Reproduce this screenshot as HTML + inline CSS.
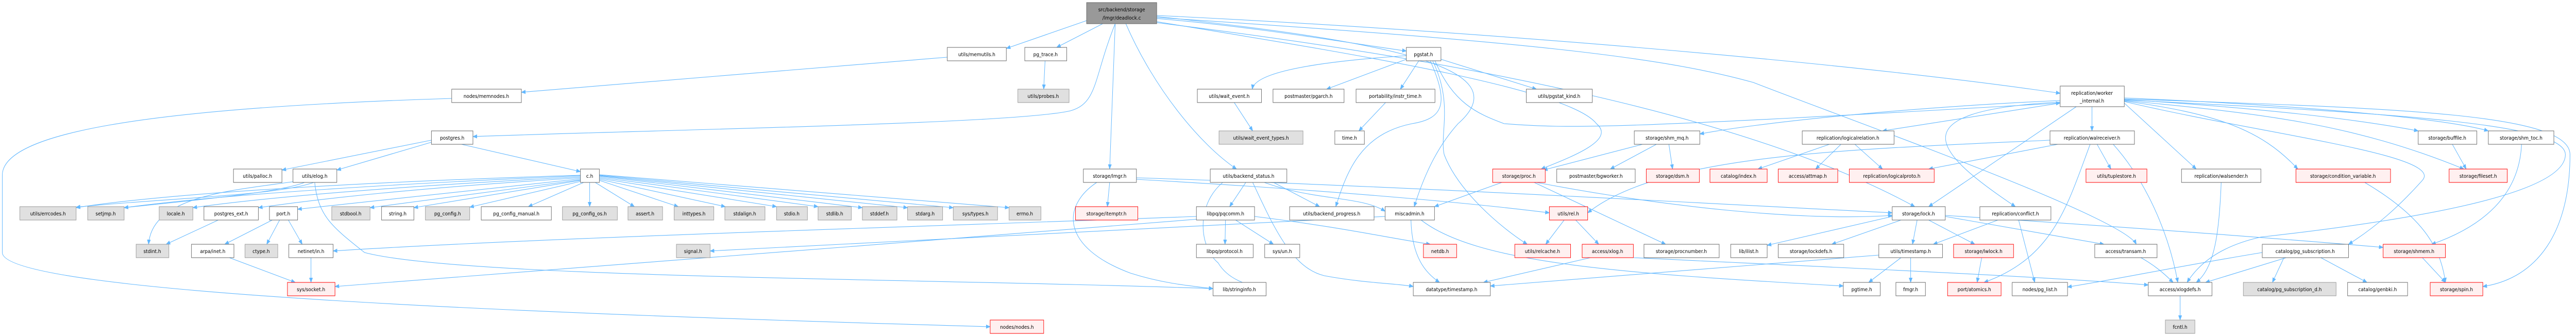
<!DOCTYPE html>
<html><head><meta charset="utf-8"><style>
html,body{margin:0;padding:0;background:#fff;width:100vw;height:100vh;overflow:hidden;}
svg{display:block;position:absolute;left:0;top:0;width:100vw;height:100vh;}
.e{fill:none;stroke:#63b8ff;stroke-width:1.1;marker-end:url(#a);}
.n{fill:#fff;stroke:#666;stroke-width:1;}
.g{fill:#e0e0e0;stroke:#999;stroke-width:1;}
.r{fill:#fff0f0;stroke:#f00;stroke-width:1;}
.t{fill:#999;stroke:#666;stroke-width:1;}
text{font-family:"DejaVu Sans","Liberation Sans",sans-serif;font-size:10px;fill:#000;text-anchor:middle;}
</style></head><body>
<svg viewBox="0 0 5583 652" preserveAspectRatio="none" xmlns="http://www.w3.org/2000/svg">
<defs><marker id="a" markerWidth="10" markerHeight="8" refX="9" refY="4" orient="auto" markerUnits="userSpaceOnUse"><path d="M0,0 L10,4 L0,8 z" fill="#63b8ff"/></marker></defs>
<g>
<path class="e" d="M2355,40 L2181,94"/>
<path class="e" d="M2390,46 L2290,92"/>
<path class="e" d="M2507,36 C2700,50 2900,80 3048,99"/>
<path class="e" d="M2417,46 L2405,328"/>
<path class="e" d="M2440,46 C2500,170 2600,280 2680,328"/>
<path class="e" d="M2417,46 C2370,150 2380,200 2320,215 C2200,240 1500,250 1025,265"/>
<path class="e" d="M2507,30 C3200,60 4000,120 4465,181"/>
<path class="e" d="M2507,42 C2900,100 3400,170 3460,240 C3500,270 3420,300 3340,328"/>
<path class="e" d="M2507,32 C3000,80 3300,130 3160,240 C3120,280 3090,330 3065,401"/>
<path class="e" d="M2507,44 C3200,120 3800,230 4150,401"/>
<path class="e" d="M2507,34 C3300,80 3600,110 3800,160 C4000,230 4600,420 4630,474"/>
<path class="e" d="M2053,111 L1130,179"/>
<path class="e" d="M979,191 C300,210 5,260 5,340 L5,490 C5,570 1200,610 2146,634"/>
<path class="e" d="M2265,118 L2262,173"/>
<path class="e" d="M1000,280 L1258,333"/>
<path class="e" d="M935,272 L611,330"/>
<path class="e" d="M935,276 L730,330"/>
<path class="e" d="M1258,340 C900,350 400,370 165,403"/>
<path class="e" d="M1258,341 C900,355 500,375 269,403"/>
<path class="e" d="M1258,343 C900,360 600,380 418,403"/>
<path class="e" d="M1258,345 C900,365 700,385 560,403"/>
<path class="e" d="M1258,347 C1000,370 800,390 645,406"/>
<path class="e" d="M1258,349 L802,403"/>
<path class="e" d="M1258,350 L897,403"/>
<path class="e" d="M1258,352 L1018,402"/>
<path class="e" d="M1265,354 L1145,401"/>
<path class="e" d="M1278,354 L1278,401"/>
<path class="e" d="M1290,354 L1375,401"/>
<path class="e" d="M1299,350 L1470,401"/>
<path class="e" d="M1299,348 L1572,401"/>
<path class="e" d="M1299,346 L1683,401"/>
<path class="e" d="M1299,344 L1773,401"/>
<path class="e" d="M1299,342 L1869,403"/>
<path class="e" d="M1299,341 L1967,403"/>
<path class="e" d="M1299,340 L2066,403"/>
<path class="e" d="M1299,339 L2187,403"/>
<path class="e" d="M640,352 C500,370 330,380 322,474"/>
<path class="e" d="M682,354 C690,420 720,440 790,490 C1000,540 2000,540 2629,560"/>
<path class="e" d="M680,354 C600,380 350,385 165,402"/>
<path class="e" d="M660,354 C600,375 400,390 269,403"/>
<path class="e" d="M473,427 L360,474"/>
<path class="e" d="M590,427 L487,474"/>
<path class="e" d="M606,427 L578,474"/>
<path class="e" d="M625,427 L655,474"/>
<path class="e" d="M497,500 L640,548"/>
<path class="e" d="M674,500 L674,548"/>
<path class="e" d="M2675,199 L2715,254"/>
<path class="e" d="M3048,108 C2850,120 2720,140 2714,173"/>
<path class="e" d="M3048,115 L2875,173"/>
<path class="e" d="M3075,118 L3035,173"/>
<path class="e" d="M3123,115 L3330,173"/>
<path class="e" d="M3100,118 C3140,200 3130,230 3060,240 C2950,260 2920,330 2895,401"/>
<path class="e" d="M3105,118 C3150,200 3120,260 3130,300 C3160,370 3250,440 3310,474"/>
<path class="e" d="M3110,118 C3150,200 3200,220 3260,240 C3400,250 3500,250 4465,200"/>
<path class="e" d="M3003,199 L2945,254"/>
<path class="e" d="M2405,354 L2400,401"/>
<path class="e" d="M2377,354 C2300,400 2300,480 2450,530 C2520,550 2580,555 2629,560"/>
<path class="e" d="M2463,345 C3000,360 3600,390 4101,413"/>
<path class="e" d="M2463,348 C2900,370 3200,395 3358,413"/>
<path class="e" d="M2700,354 L2665,401"/>
<path class="e" d="M2740,354 C2850,390 2950,380 3002,410"/>
<path class="e" d="M2650,354 C2590,400 2600,480 2640,510 C2660,540 2700,555 2744,558"/>
<path class="e" d="M2715,354 C2760,440 2800,520 2870,535 C2960,550 3030,550 3063,556"/>
<path class="e" d="M2760,354 L2860,401"/>
<path class="e" d="M2656,427 L2655,474"/>
<path class="e" d="M2678,427 L2760,474"/>
<path class="e" d="M2719,420 C2900,440 3000,460 3100,474"/>
<path class="e" d="M2593,420 C2000,440 1200,460 722,487"/>
<path class="e" d="M2600,425 C2000,470 1200,520 726,556"/>
<path class="e" d="M3560,280 L3345,330"/>
<path class="e" d="M3590,280 L3490,328"/>
<path class="e" d="M3617,280 L3625,328"/>
<path class="e" d="M3255,354 L3109,401"/>
<path class="e" d="M3325,354 L3610,474"/>
<path class="e" d="M3330,354 C3600,400 3900,430 4101,418"/>
<path class="e" d="M3390,427 L3350,474"/>
<path class="e" d="M3415,427 L3465,474"/>
<path class="e" d="M3058,427 C3060,500 3090,530 3120,548"/>
<path class="e" d="M3002,420 C2500,440 2000,470 1539,487"/>
<path class="e" d="M3080,427 C3200,510 3500,530 3995,555"/>
<path class="e" d="M3447,500 L3215,548"/>
<path class="e" d="M3540,500 C4000,520 4400,535 4656,553"/>
<path class="e" d="M4465,200 L4080,254"/>
<path class="e" d="M4534,207 L4534,254"/>
<path class="e" d="M4500,207 L4180,401"/>
<path class="e" d="M4465,195 C4100,210 3800,240 3684,260"/>
<path class="e" d="M4604,193 C4900,210 5100,230 5241,254"/>
<path class="e" d="M4604,190 C5000,205 5300,230 5393,254"/>
<path class="e" d="M4604,195 C4900,220 5100,240 5340,328"/>
<path class="e" d="M4604,196 C4800,220 4900,250 4980,328"/>
<path class="e" d="M4604,200 L4760,328"/>
<path class="e" d="M4604,197 C4900,260 5300,300 5250,350 C5200,400 5150,440 5090,474"/>
<path class="e" d="M4604,192 C5200,210 5570,220 5570,300 C5570,450 5500,540 5381,556"/>
<path class="e" d="M4604,194 C5200,220 5560,240 5560,300 C5560,380 5200,430 4900,460 C4800,480 4760,520 4740,548"/>
<path class="e" d="M4465,198 C4100,215 4200,300 4368,401"/>
<path class="e" d="M3965,280 L3810,328"/>
<path class="e" d="M3990,280 L3935,328"/>
<path class="e" d="M4020,280 L4080,328"/>
<path class="e" d="M4545,280 L4575,328"/>
<path class="e" d="M4460,280 L4180,328"/>
<path class="e" d="M4530,280 C4480,400 4450,500 4300,548"/>
<path class="e" d="M4580,280 C4650,350 4700,450 4720,548"/>
<path class="e" d="M4443,272 C4000,290 3600,300 3441,413"/>
<path class="e" d="M4101,420 L3830,476"/>
<path class="e" d="M4120,427 L3970,474"/>
<path class="e" d="M4155,427 L4145,474"/>
<path class="e" d="M4180,427 L4280,474"/>
<path class="e" d="M4216,420 L4560,474"/>
<path class="e" d="M4216,418 C4600,440 4900,460 5165,480"/>
<path class="e" d="M4330,427 L4190,474"/>
<path class="e" d="M4375,427 L4410,548"/>
<path class="e" d="M4120,500 L4050,548"/>
<path class="e" d="M4141,500 L4141,548"/>
<path class="e" d="M4072,495 C3700,520 3400,545 3230,555"/>
<path class="e" d="M4295,500 L4285,548"/>
<path class="e" d="M5315,280 L5345,328"/>
<path class="e" d="M5465,280 C5460,380 5380,440 5270,474"/>
<path class="e" d="M5125,354 C5250,420 5290,480 5300,548"/>
<path class="e" d="M5250,500 L5300,548"/>
<path class="e" d="M4814,354 C4810,450 4800,520 4760,548"/>
<path class="e" d="M4950,500 L4925,548"/>
<path class="e" d="M5030,500 L5130,548"/>
<path class="e" d="M4955,500 L4780,548"/>
<path class="e" d="M4903,490 C4700,520 4600,540 4481,557"/>
<path class="e" d="M4725,574 L4725,621"/>
<path class="e" d="M4640,500 C4680,520 4700,540 4710,548"/>
</g>
<g>
<rect class="t" x="2355" y="5" width="152" height="41"/><text x="2431" y="22">src/backend/storage</text><text x="2431" y="38">/lmgr/deadlock.c</text>
<rect class="n" x="4465" y="167" width="139" height="40"/><text x="4534" y="184">replication/worker</text><text x="4534" y="199">_internal.h</text>
</g>
<g>
<rect class="n" x="2053" y="92" width="128" height="26"/><text x="2117" y="109">utils/memutils.h</text>
<rect class="n" x="2221" y="92" width="91" height="26"/><text x="2266" y="109">pg_trace.h</text>
<rect class="n" x="3048" y="92" width="75" height="26"/><text x="3085" y="109">pgstat.h</text>
</g>
<g>
<rect class="g" x="2206" y="173" width="111" height="26"/><text x="2261" y="190">utils/probes.h</text>
<rect class="n" x="979" y="173" width="151" height="26"/><text x="1054" y="190">nodes/memnodes.h</text>
<rect class="n" x="2595" y="173" width="139" height="26"/><text x="2664" y="190">utils/wait_event.h</text>
<rect class="n" x="2759" y="173" width="154" height="26"/><text x="2836" y="190">postmaster/pgarch.h</text>
<rect class="n" x="2939" y="173" width="171" height="26"/><text x="3024" y="190">portability/instr_time.h</text>
<rect class="n" x="3308" y="173" width="143" height="26"/><text x="3379" y="190">utils/pgstat_kind.h</text>
</g>
<g>
<rect class="n" x="935" y="254" width="90" height="26"/><text x="980" y="271">postgres.h</text>
<rect class="g" x="2642" y="254" width="182" height="26"/><text x="2733" y="271">utils/wait_event_types.h</text>
<rect class="n" x="2893" y="254" width="64" height="26"/><text x="2925" y="271">time.h</text>
<rect class="n" x="3542" y="254" width="142" height="26"/><text x="3613" y="271">storage/shm_mq.h</text>
<rect class="n" x="3906" y="254" width="199" height="26"/><text x="4005" y="271">replication/logicalrelation.h</text>
<rect class="n" x="4443" y="254" width="183" height="26"/><text x="4534" y="271">replication/walreceiver.h</text>
<rect class="n" x="5241" y="254" width="127" height="26"/><text x="5304" y="271">storage/buffile.h</text>
<rect class="n" x="5393" y="254" width="142" height="26"/><text x="5464" y="271">storage/shm_toc.h</text>
</g>
<g>
<rect class="n" x="506" y="328" width="105" height="26"/><text x="558" y="345">utils/palloc.h</text>
<rect class="n" x="635" y="328" width="95" height="26"/><text x="682" y="345">utils/elog.h</text>
<rect class="n" x="1258" y="328" width="41" height="26"/><text x="1278" y="345">c.h</text>
<rect class="n" x="2348" y="328" width="115" height="26"/><text x="2405" y="345">storage/lmgr.h</text>
<rect class="n" x="2623" y="328" width="166" height="26"/><text x="2706" y="345">utils/backend_status.h</text>
<rect class="r" x="3235" y="328" width="114" height="26"/><text x="3292" y="345">storage/proc.h</text>
<rect class="n" x="3374" y="328" width="170" height="26"/><text x="3459" y="345">postmaster/bgworker.h</text>
<rect class="r" x="3568" y="328" width="115" height="26"/><text x="3625" y="345">storage/dsm.h</text>
<rect class="r" x="3706" y="328" width="124" height="26"/><text x="3768" y="345">catalog/index.h</text>
<rect class="r" x="3854" y="328" width="129" height="26"/><text x="3918" y="345">access/attmap.h</text>
<rect class="r" x="4008" y="328" width="184" height="26"/><text x="4100" y="345">replication/logicalproto.h</text>
<rect class="r" x="4521" y="328" width="132" height="26"/><text x="4587" y="345">utils/tuplestore.h</text>
<rect class="n" x="4728" y="328" width="172" height="26"/><text x="4814" y="345">replication/walsender.h</text>
<rect class="r" x="4976" y="328" width="205" height="26"/><text x="5078" y="345">storage/condition_variable.h</text>
<rect class="r" x="5308" y="328" width="126" height="26"/><text x="5371" y="345">storage/fileset.h</text>
</g>
<g>
<rect class="g" x="43" y="401" width="122" height="26"/><text x="104" y="418">utils/errcodes.h</text>
<rect class="g" x="190" y="401" width="79" height="26"/><text x="229" y="418">setjmp.h</text>
<rect class="g" x="345" y="401" width="73" height="26"/><text x="381" y="418">locale.h</text>
<rect class="n" x="442" y="401" width="118" height="26"/><text x="501" y="418">postgres_ext.h</text>
<rect class="n" x="584" y="401" width="61" height="26"/><text x="614" y="418">port.h</text>
<rect class="g" x="719" y="401" width="83" height="26"/><text x="760" y="418">stdbool.h</text>
<rect class="n" x="827" y="401" width="70" height="26"/><text x="862" y="418">string.h</text>
<rect class="g" x="922" y="401" width="96" height="26"/><text x="970" y="418">pg_config.h</text>
<rect class="n" x="1043" y="401" width="152" height="26"/><text x="1119" y="418">pg_config_manual.h</text>
<rect class="g" x="1219" y="401" width="119" height="26"/><text x="1278" y="418">pg_config_os.h</text>
<rect class="g" x="1361" y="401" width="75" height="26"/><text x="1398" y="418">assert.h</text>
<rect class="g" x="1461" y="401" width="86" height="26"/><text x="1504" y="418">inttypes.h</text>
<rect class="g" x="1571" y="401" width="87" height="26"/><text x="1614" y="418">stdalign.h</text>
<rect class="g" x="1683" y="401" width="67" height="26"/><text x="1716" y="418">stdio.h</text>
<rect class="g" x="1773" y="401" width="72" height="26"/><text x="1809" y="418">stdlib.h</text>
<rect class="g" x="1869" y="401" width="75" height="26"/><text x="1906" y="418">stddef.h</text>
<rect class="g" x="1967" y="401" width="76" height="26"/><text x="2005" y="418">stdarg.h</text>
<rect class="g" x="2066" y="401" width="96" height="26"/><text x="2114" y="418">sys/types.h</text>
<rect class="g" x="2187" y="401" width="69" height="26"/><text x="2221" y="418">errno.h</text>
<rect class="r" x="2331" y="401" width="135" height="26"/><text x="2398" y="418">storage/itemptr.h</text>
<rect class="n" x="2593" y="401" width="126" height="26"/><text x="2656" y="418">libpq/pqcomm.h</text>
<rect class="n" x="2795" y="401" width="183" height="26"/><text x="2886" y="418">utils/backend_progress.h</text>
<rect class="n" x="3002" y="401" width="107" height="26"/><text x="3055" y="418">miscadmin.h</text>
<rect class="r" x="3358" y="401" width="83" height="26"/><text x="3399" y="418">utils/rel.h</text>
<rect class="n" x="4101" y="401" width="115" height="26"/><text x="4158" y="418">storage/lock.h</text>
<rect class="n" x="4291" y="401" width="154" height="26"/><text x="4368" y="418">replication/conflict.h</text>
</g>
<g>
<rect class="g" x="295" y="474" width="71" height="26"/><text x="330" y="491">stdint.h</text>
<rect class="n" x="415" y="474" width="92" height="26"/><text x="461" y="491">arpa/inet.h</text>
<rect class="g" x="531" y="474" width="71" height="26"/><text x="566" y="491">ctype.h</text>
<rect class="n" x="626" y="474" width="96" height="26"/><text x="674" y="491">netinet/in.h</text>
<rect class="g" x="1466" y="474" width="73" height="26"/><text x="1502" y="491">signal.h</text>
<rect class="n" x="2593" y="474" width="123" height="26"/><text x="2654" y="491">libpq/protocol.h</text>
<rect class="n" x="2741" y="474" width="76" height="26"/><text x="2779" y="491">sys/un.h</text>
<rect class="r" x="3085" y="474" width="72" height="26"/><text x="3121" y="491">netdb.h</text>
<rect class="r" x="3283" y="474" width="121" height="26"/><text x="3343" y="491">utils/relcache.h</text>
<rect class="r" x="3429" y="474" width="111" height="26"/><text x="3484" y="491">access/xlog.h</text>
<rect class="n" x="3563" y="474" width="163" height="26"/><text x="3644" y="491">storage/procnumber.h</text>
<rect class="n" x="3751" y="474" width="79" height="26"/><text x="3790" y="491">lib/ilist.h</text>
<rect class="n" x="3854" y="474" width="142" height="26"/><text x="3925" y="491">storage/lockdefs.h</text>
<rect class="n" x="4072" y="474" width="138" height="26"/><text x="4141" y="491">utils/timestamp.h</text>
<rect class="r" x="4234" y="474" width="130" height="26"/><text x="4299" y="491">storage/lwlock.h</text>
<rect class="n" x="4540" y="474" width="135" height="26"/><text x="4607" y="491">access/transam.h</text>
<rect class="n" x="4903" y="474" width="187" height="26"/><text x="4996" y="491">catalog/pg_subscription.h</text>
<rect class="r" x="5165" y="474" width="135" height="26"/><text x="5232" y="491">storage/shmem.h</text>
</g>
<g>
<rect class="r" x="623" y="548" width="103" height="26"/><text x="674" y="565">sys/socket.h</text>
<rect class="n" x="2629" y="548" width="115" height="26"/><text x="2686" y="565">lib/stringinfo.h</text>
<rect class="n" x="3063" y="548" width="167" height="26"/><text x="3146" y="565">datatype/timestamp.h</text>
<rect class="n" x="3995" y="548" width="80" height="26"/><text x="4035" y="565">pgtime.h</text>
<rect class="n" x="4109" y="548" width="64" height="26"/><text x="4141" y="565">fmgr.h</text>
<rect class="r" x="4221" y="548" width="116" height="26"/><text x="4279" y="565">port/atomics.h</text>
<rect class="n" x="4361" y="548" width="120" height="26"/><text x="4421" y="565">nodes/pg_list.h</text>
<rect class="n" x="4656" y="548" width="138" height="26"/><text x="4725" y="565">access/xlogdefs.h</text>
<rect class="g" x="4862" y="548" width="201" height="26"/><text x="4962" y="565">catalog/pg_subscription_d.h</text>
<rect class="n" x="5088" y="548" width="130" height="26"/><text x="5153" y="565">catalog/genbki.h</text>
<rect class="r" x="5267" y="548" width="114" height="26"/><text x="5324" y="565">storage/spin.h</text>
</g>
<g>
<rect class="r" x="2146" y="621" width="116" height="26"/><text x="2204" y="638">nodes/nodes.h</text>
<rect class="g" x="4693" y="621" width="64" height="26"/><text x="4725" y="638">fcntl.h</text>
</g>
</svg>
</body></html>
